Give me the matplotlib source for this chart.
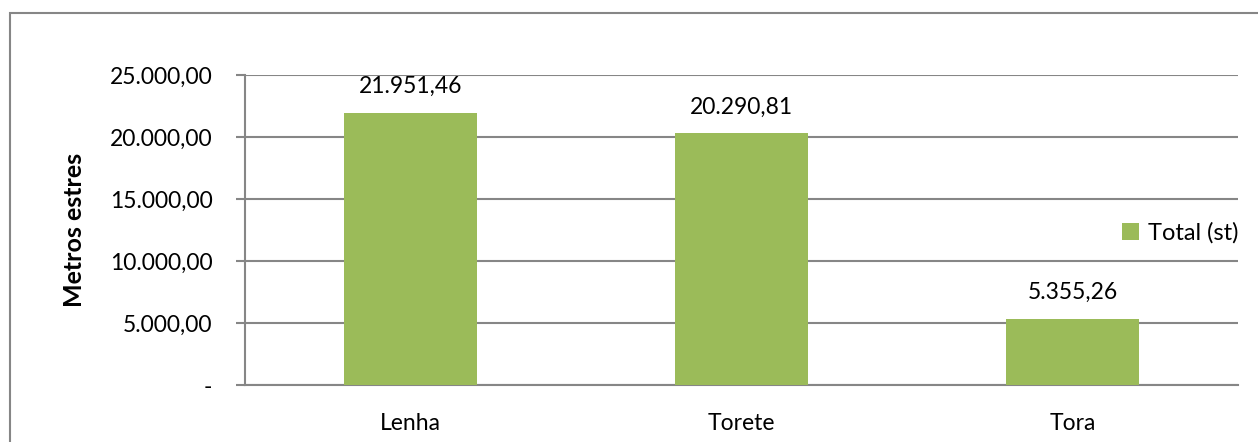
import matplotlib.pyplot as plt
from matplotlib.patches import Rectangle

categories = ['Lenha', 'Torete', 'Tora']
totals = [21951.46, 20290.81, 5355.26]
yticks = [0, 5000, 10000, 15000, 20000, 25000]
ytick_labels = ['-', '5.000,00', '10.000,00', '15.000,00', '20.000,00', '25.000,00']

plt.rcParams['font.family'] = ['Lato', 'DejaVu Sans']

W, H = 1258, 442
fig = plt.figure(figsize=(W / 100, H / 100), dpi=100)

# plot area in pixels: x 245..1238, y 75..385
x0, x1 = 245, 1238
ax = fig.add_axes([x0 / W, 1 - 385 / H, (x1 - x0) / W, (385 - 75) / H])

x = range(len(categories))
bars = ax.bar(x, totals, width=0.4, color='#9BBB59', label='Total (st)', zorder=3)

ax.set_xlim(-0.5, len(categories) - 0.5)
ax.set_ylim(0, 25000)
ax.set_yticks(yticks)
ax.set_yticklabels(ytick_labels, fontsize=16.5)
ax.set_xticks(list(x))
ax.set_xticklabels(categories, fontsize=16.5)
ax.tick_params(axis='x', length=0, pad=20)
ax.tick_params(axis='y', length=6.5, width=1.5, color='#868686', pad=17)

ax.grid(axis='y', color='#868686', linewidth=1.5, zorder=0)
for s in ['top', 'right']:
    ax.spines[s].set_visible(False)
for s in ['left', 'bottom']:
    ax.spines[s].set_color('#868686')
    ax.spines[s].set_linewidth(1.5)

for b, v in zip(bars, totals):
    txt = f'{v:,.2f}'.replace(',', 'X').replace('.', ',').replace('X', '.')
    ax.annotate(txt, (b.get_x() + b.get_width() / 2, v), xytext=(0, 19),
                textcoords='offset points', ha='center', va='center', fontsize=16.5)

ax.set_ylabel('Metros estres', fontsize=18, fontweight='bold')
ax.yaxis.set_label_coords((86 - x0) / (x1 - x0), 0.5)

leg = ax.legend(loc='center left', bbox_to_anchor=(1122 / W, 1 - 233 / H),
                bbox_transform=fig.transFigure, frameon=False, fontsize=17,
                handlelength=0.7, handleheight=0.7, handletextpad=0.4,
                borderaxespad=0, borderpad=0)

# outer chart border (cut off at right and bottom)
fig.patches.append(Rectangle((10 / W, -0.1), 1.2, 1.1 - 13 / H, transform=fig.transFigure,
                             fill=False, edgecolor='#868686', linewidth=1.5))

fig.savefig('out.png', dpi=100)
